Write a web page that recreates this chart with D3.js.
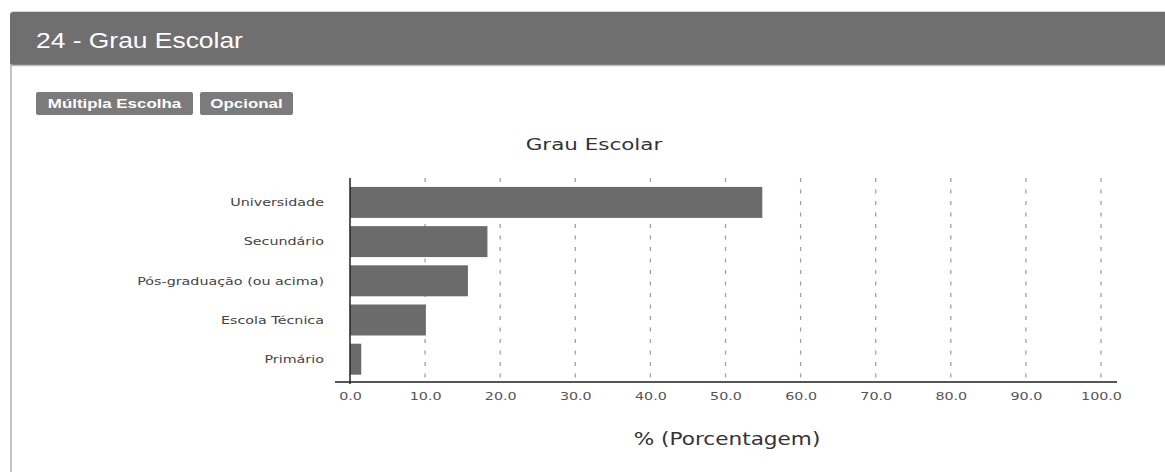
<!DOCTYPE html>
<html>
<head>
<meta charset="utf-8">
<script src="https://cdn.jsdelivr.net/npm/d3@7"></script>
<style>
  html, body { margin: 0; padding: 0; background: #fff; }
  svg { display: block; }
</style>
</head>
<body>
<svg id="chart" width="1165" height="472"></svg>
<script>
const categories = ["Universidade", "Secundário", "Pós-graduação (ou acima)", "Escola Técnica", "Primário"];
const values = [54.9, 18.3, 15.7, 10.1, 1.5];
const xTicks = [0, 10, 20, 30, 40, 50, 60, 70, 80, 90, 100];
const panelTitle = "24 - Grau Escolar";
const badges = ["Múltipla Escolha", "Opcional"];
const chartTitle = "Grau Escolar";
const xAxisTitle = "% (Porcentagem)";

const svg = d3.select("#chart");

// widen glyphs horizontally (reference text looks stretched)
function stretch(sel, f) {
  sel.each(function () {
    const w = this.getComputedTextLength();
    d3.select(this).attr("textLength", w * f).attr("lengthAdjust", "spacingAndGlyphs");
  });
}

// panel frame
svg.append("rect").attr("x", 0).attr("y", 0).attr("width", 1165).attr("height", 472).attr("fill", "#fff");
svg.append("line").attr("x1", 11).attr("x2", 11).attr("y1", 40).attr("y2", 472)
  .attr("stroke", "#c4c4c4").attr("stroke-width", 2);
svg.append("line").attr("x1", 12).attr("x2", 1165).attr("y1", 11.5).attr("y2", 11.5)
  .attr("stroke", "#d8d8d8").attr("stroke-width", 1);
svg.append("rect").attr("x", 10).attr("y", 12).attr("width", 1165).attr("height", 53).attr("rx", 3)
  .attr("fill", "#6f6f6f");
svg.append("line").attr("x1", 10).attr("x2", 1165).attr("y1", 65.5).attr("y2", 65.5)
  .attr("stroke", "#bdbdbd").attr("stroke-width", 1.5);
svg.append("text").attr("x", 36).attr("y", 48).text(panelTitle)
  .attr("fill", "#fff").attr("font-family", "Liberation Sans, Arial, sans-serif")
  .attr("font-size", 22).call(stretch, 1.2);

// badges
const badgeX = [36, 200];
const badgeW = [157, 93];
badges.forEach((b, i) => {
  svg.append("rect").attr("x", badgeX[i]).attr("y", 92).attr("width", badgeW[i]).attr("height", 23)
    .attr("rx", 2).attr("fill", "#7b7b7b");
  svg.append("text").attr("x", badgeX[i] + badgeW[i] / 2).attr("y", 108).text(b)
    .attr("text-anchor", "middle").attr("fill", "#fff")
    .attr("font-family", "Liberation Sans, Arial, sans-serif").attr("font-weight", "bold")
    .attr("font-size", 13).call(stretch, 1.3);
});

// chart title
svg.append("text").attr("x", 594).attr("y", 150).text(chartTitle)
  .attr("text-anchor", "middle").attr("fill", "#333")
  .attr("font-family", "DejaVu Sans, sans-serif").attr("font-size", 16).call(stretch, 1.34);

const x = d3.scaleLinear().domain([0, 100]).range([350, 1101]);
const y = d3.scaleBand().domain(categories).range([183, 378.6]).paddingInner(0.21).paddingOuter(0.1);

// gridlines
svg.append("g").selectAll("line").data(xTicks.filter(d => d > 0)).join("line")
  .attr("x1", d => x(d)).attr("x2", d => x(d)).attr("y1", 178).attr("y2", 382)
  .attr("stroke", "#a0a0a0").attr("stroke-width", 1.3).attr("stroke-dasharray", "4,7.5");

// bars
svg.append("g").selectAll("rect").data(categories).join("rect")
  .attr("x", x(0)).attr("y", d => y(d))
  .attr("width", (d, i) => x(values[i]) - x(0)).attr("height", y.bandwidth())
  .attr("fill", "#6b6b6b");

// y labels
svg.append("g").selectAll("text").data(categories).join("text")
  .attr("x", 324).attr("y", d => y(d) + y.bandwidth() / 2).attr("dy", "0.35em")
  .attr("text-anchor", "end").text(d => d)
  .attr("fill", "#444").attr("font-family", "DejaVu Sans, sans-serif")
  .attr("font-size", 11).call(stretch, 1.3);

// x axis
const xAxis = d3.axisBottom(x).tickValues(xTicks).tickFormat(d3.format(".1f")).tickSize(0).tickPadding(10);
const gx = svg.append("g").attr("transform", "translate(0,382)").call(xAxis);
gx.select(".domain").remove();
gx.selectAll("text").attr("fill", "#555").attr("font-family", "DejaVu Sans, sans-serif")
  .attr("font-size", 11).call(stretch, 1.3);
svg.append("line").attr("x1", 335).attr("x2", 1117).attr("y1", 382).attr("y2", 382)
  .attr("stroke", "#555").attr("stroke-width", 2);
// y axis line
svg.append("line").attr("x1", 350).attr("x2", 350).attr("y1", 178).attr("y2", 384)
  .attr("stroke", "#222").attr("stroke-width", 1.5);

// x axis title
svg.append("text").attr("x", 727).attr("y", 445).text(xAxisTitle)
  .attr("text-anchor", "middle").attr("fill", "#333")
  .attr("font-family", "DejaVu Sans, sans-serif").attr("font-size", 17).call(stretch, 1.27);
</script>
</body>
</html>
